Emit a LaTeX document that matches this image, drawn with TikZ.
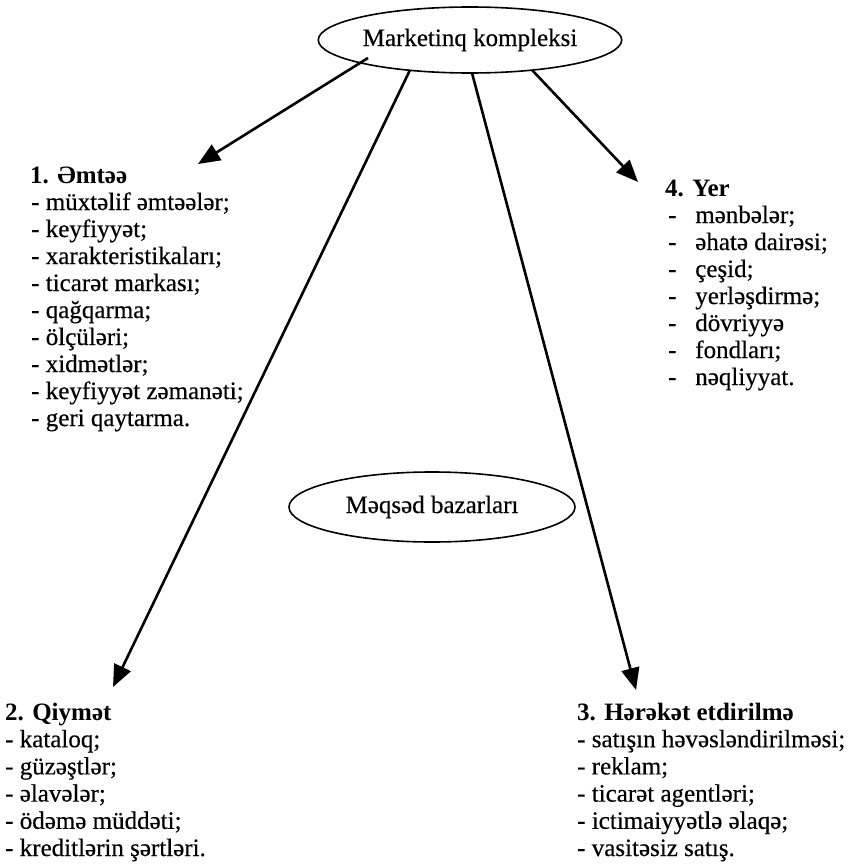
\documentclass[tikz,border=0pt]{standalone}
\usepackage{fontspec}
\setmainfont{Liberation Serif}[UprightFeatures={FakeBold=0.4}]
\usetikzlibrary{arrows.meta,shapes.geometric}
\begin{document}
\begin{tikzpicture}[x=1pt,y=-1pt,
  oval/.style={draw,ellipse,line width=1.6pt,inner sep=0pt,
    font=\fontsize{25}{25}\selectfont},
  link/.style={line width=2.6pt,-{Triangle[length=22pt,width=18pt]}},
  item/.style={anchor=base west,inner sep=0pt,font=\fontsize{25}{25}\selectfont},
  head/.style={anchor=base west,inner sep=0pt,font=\fontsize{25}{25}\selectfont\bfseries}]
\useasboundingbox (0,0) rectangle (848,864);

% the two ovals
\node[oval,minimum width=290pt,minimum height=66pt] (mk) at (470,40) {Marketinq kompleksi};
\node[oval,minimum width=286pt,minimum height=70pt] (mb) at (432,507) {Məqsəd bazarları};

% 1. Əmtəə
\node[head] (h1) at (30,183) {1. Əmtəə};
\foreach \t [count=\i] in {- müxtəlif əmtəələr;, - keyfiyyət;, - xarakteristikaları;,
  - ticarət markası;, - qağqarma;, - ölçüləri;, - xidmətlər;,
  - keyfiyyət zəmanəti;, - geri qaytarma.}
  \node[item] (a\i) at (31,{183+27*\i}) {\t};

% 4. Yer
\node[head] (h4) at (665,196) {4. Yer};
\foreach \t [count=\i] in {mənbələr;, əhatə dairəsi;, çeşid;, yerləşdirmə;,
  dövriyyə, fondları;, nəqliyyat.}
  \node[item] (d\i) at (668,{196+27*\i}) {-\hspace{0.75em}\t};

% 2. Qiymət
\node[head] (h2) at (5,720) {2. Qiymət};
\foreach \t [count=\i] in {- kataloq;, - güzəştlər;, - əlavələr;, - ödəmə müddəti;,
  - kreditlərin şərtləri.}
  \node[item] (b\i) at (5,{720+27.2*\i}) {\t};

% 3. Hərəkət etdirilmə
\node[head] (h3) at (577,720) {3. Hərəkət etdirilmə};
\foreach \t [count=\i] in {- satışın həvəsləndirilməsi;, - reklam;, - ticarət agentləri;,
  - ictimaiyyətlə əlaqə;, - vasitəsiz satış.}
  \node[item] (c\i) at (577,{720+27.2*\i}) {\t};

% arrow tips
\coordinate (p1) at (198,164);
\coordinate (p2) at (113,687);
\coordinate (p3) at (636,690);
\coordinate (p4) at (638,182);

% connectors from the top oval
\draw[link] ([shift={(-102,18)}]mk.center) -- (p1);
\draw[link] ([shift={(-60,30)}]mk.center) -- (p2);
\draw[link] ([shift={(2,33)}]mk.center) -- (p3);
\draw[link] ([shift={(62,30)}]mk.center) -- (p4);
\end{tikzpicture}
\end{document}
